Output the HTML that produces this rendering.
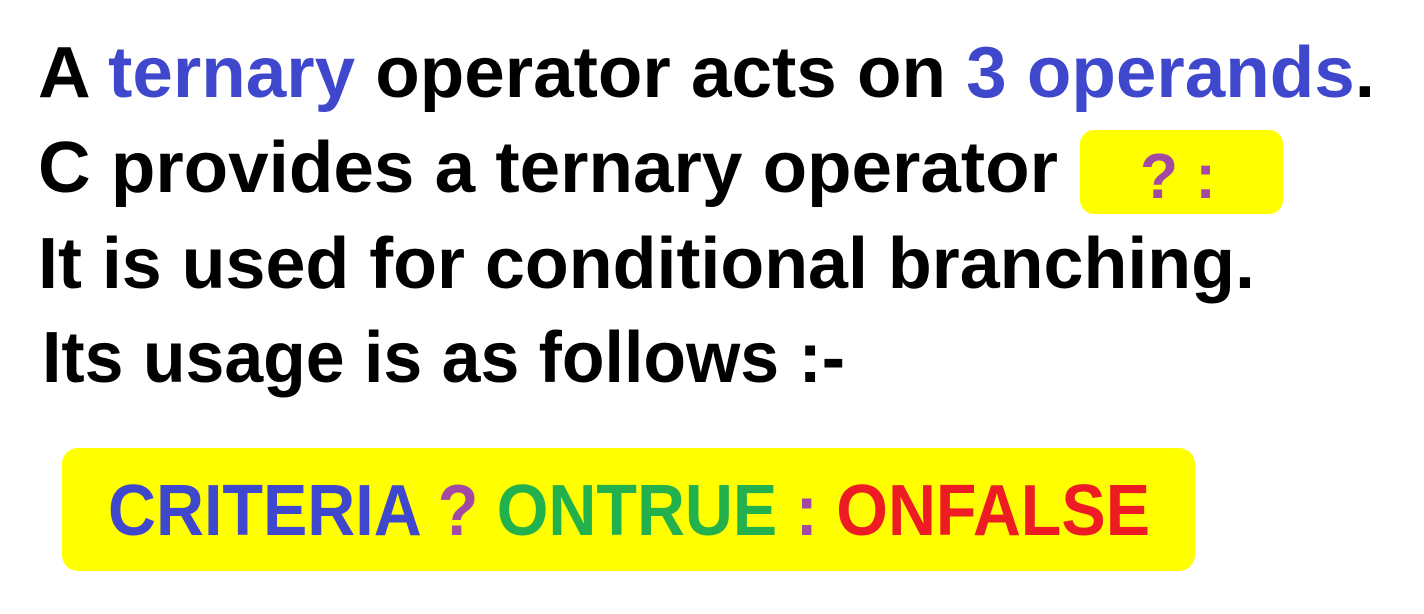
<!DOCTYPE html>
<html>
<head>
<meta charset="utf-8">
<style>
html,body{margin:0;padding:0;background:#fff;}
svg{display:block;}
text{font-family:"Liberation Sans",sans-serif;font-weight:bold;}
</style>
</head>
<body>
<svg width="1424" height="614" viewBox="0 0 1424 614">
  <rect x="0" y="0" width="1424" height="614" fill="#ffffff"/>
  <text x="38" y="97" font-size="72" textLength="1337" lengthAdjust="spacingAndGlyphs" fill="#000">A <tspan fill="#3f48cc">ternary</tspan> operator acts on <tspan fill="#3f48cc">3 operands</tspan>.</text>
  <text x="38" y="192" font-size="72" textLength="1020" lengthAdjust="spacingAndGlyphs" fill="#000">C provides a ternary operator</text>
  <rect x="1080" y="130" width="203" height="84" rx="14" fill="#ffff00"/>
  <text x="1140" y="198" font-size="64" textLength="76" lengthAdjust="spacingAndGlyphs" fill="#a349a4">? :</text>
  <text x="38" y="288" font-size="72" textLength="1217" lengthAdjust="spacingAndGlyphs" fill="#000">It is used for conditional branching.</text>
  <text x="42" y="382" font-size="72" textLength="803" lengthAdjust="spacingAndGlyphs" fill="#000">Its usage is as follows :-</text>
  <rect x="62" y="448" width="1133" height="123" rx="16" fill="#ffff00"/>
  <text x="108" y="535" font-size="72" textLength="1042" lengthAdjust="spacingAndGlyphs"><tspan fill="#3f48cc">CRITERIA</tspan><tspan fill="#a349a4"> ? </tspan><tspan fill="#22b14c">ONTRUE</tspan><tspan fill="#a349a4"> : </tspan><tspan fill="#ed1c24">ONFALSE</tspan></text>
</svg>
</body>
</html>
